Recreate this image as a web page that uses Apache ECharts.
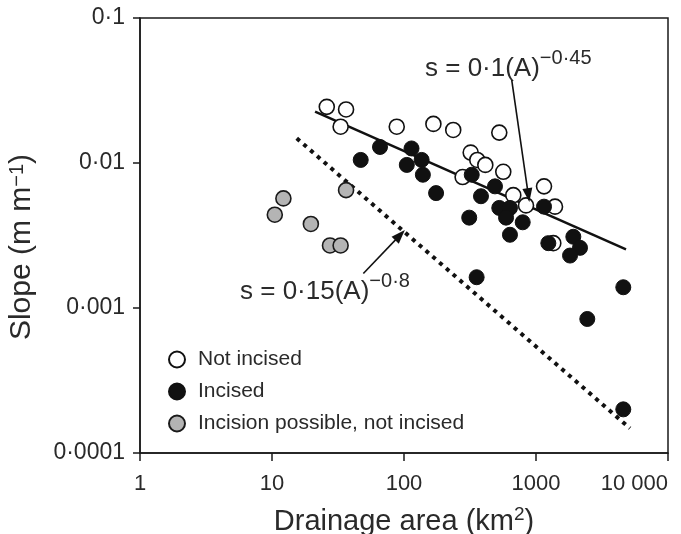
<!DOCTYPE html>
<html>
<head>
<meta charset="utf-8">
<script src="https://cdn.jsdelivr.net/npm/echarts@6/dist/echarts.min.js"></script>
<style>html,body{margin:0;padding:0;background:#fff;}#c{width:681px;height:534px;}</style>
</head>
<body>
<div id="c"></div>
<script>
// Drainage area (km2), slope (m/m)
const notIncised = [
  [26.0,0.0244],[36.4,0.0234],[33.1,0.0178],[88.1,0.0178],[167,0.0186],[236,0.0169],
  [527,0.0162],[320,0.0118],[359,0.0105],[413,0.0097],[565,0.0087],[278,0.0080],
  [673,0.0060],[1150,0.0069],[1393,0.0050],[1352,0.0028],[840,0.0051]
];
const incised = [
  [65.8,0.0129],[47,0.0105],[114,0.0126],[105,0.0097],[136,0.0105],[139,0.0083],
  [175,0.0062],[326,0.0083],[489,0.0069],[383,0.0059],[312,0.0042],[527,0.0049],
  [635,0.0049],[593,0.0042],[793,0.0039],[635,0.0032],[1150,0.0050],[1240,0.0028],
  [1918,0.0031],[2154,0.0026],[1811,0.0023],[355,0.00163],[4585,0.00139],
  [2447,0.00084],[4585,0.00020]
];
const possible = [
  [12.2,0.0057],[10.5,0.0044],[19.7,0.0038],[27.5,0.0027],[33.1,0.0027],[36.4,0.0065]
];
const fitLine = [[21.2,0.0226],[4808,0.00254]];
const thresholdLine = [[15.4,0.0148],[5150,0.000148]];
const arrowUpper = [[655,0.0373],[875,0.0060]];
const arrowLower = [[49.2,0.00173],[93.3,0.00318]];
const xTickLabels = ['1','10','100','1000','10 000'];
const yTickLabels = ['0·0001','0·001','0·01','0·1'];

const FONT = '"Liberation Sans", Arial, sans-serif';
const TXT = '#2a2a2a';
const chart = echarts.init(document.getElementById('c'));
const pt = {symbol:'circle', symbolSize:15};
chart.setOption({
  animation:false,
  backgroundColor:'#fff',
  textStyle:{fontFamily:FONT},
  grid:{left:140, right:13, top:18, bottom:81, containLabel:false, outerBoundsMode:'none',
    show:true, borderColor:'#1a1a1a', borderWidth:1.5, backgroundColor:'transparent'},
  xAxis:{
    type:'log', logBase:10, min:1, max:10000,
    axisLine:{show:true, lineStyle:{color:'#1a1a1a', width:1.5}},
    axisTick:{show:true, length:8, inside:false, lineStyle:{color:'#1a1a1a', width:1.5}},
    minorTick:{show:false},
    splitLine:{show:false},
    axisLabel:{margin:20, fontSize:22, color:TXT, fontFamily:FONT, alignMaxLabel:'right',
      formatter:v=>xTickLabels[Math.round(Math.log10(v))]},
    name:'{t|Drainage area (km}{s|2}{t|)}',
    nameLocation:'middle', nameGap:52,
    nameTextStyle:{rich:{t:{fontSize:29, color:TXT, fontFamily:FONT, verticalAlign:'bottom'}, s:{fontSize:19, color:TXT, fontFamily:FONT, verticalAlign:'top', padding:[0,0,12,0]}}}
  },
  yAxis:{
    type:'log', logBase:10, min:0.0001, max:0.1,
    axisLine:{show:true, lineStyle:{color:'#1a1a1a', width:1.5}},
    axisTick:{show:true, length:7, lineStyle:{color:'#1a1a1a', width:1.5}},
    splitLine:{show:false},
    axisLabel:{margin:15, fontSize:23, color:TXT, fontFamily:FONT,
      formatter:v=>yTickLabels[Math.round(Math.log10(v))+4]}
  },
  legend:{
    orient:'vertical', left:163, top:344, itemGap:11, itemWidth:16, itemHeight:16,
    textStyle:{fontSize:21, color:TXT, fontFamily:FONT, padding:[0,0,0,8]},
    data:['Not incised','Incised','Incision possible, not incised']
  },
  series:[
    {type:'line', data:fitLine, symbol:'none', silent:true, lineStyle:{color:'#111', width:2.5}, z:1,
     markLine:{silent:true, symbol:['none','triangle'], symbolSize:[10,14], label:{show:false},
       lineStyle:{color:'#111', width:1.6, type:'solid'},
       data:[[{coord:arrowUpper[0]},{coord:arrowUpper[1]}],[{coord:arrowLower[0]},{coord:arrowLower[1]}]]}},
    {type:'line', data:thresholdLine, symbol:'none', silent:true, lineStyle:{color:'#111', width:4, type:[4,5]}, z:1},
    Object.assign({name:'Not incised', type:'scatter', data:notIncised, z:3,
      itemStyle:{color:'#fff', borderColor:'#111', borderWidth:1.6, opacity:1}}, pt),
    Object.assign({name:'Incised', type:'scatter', data:incised, z:4,
      itemStyle:{color:'#111', borderColor:'#111', borderWidth:1, opacity:1}}, pt),
    Object.assign({name:'Incision possible, not incised', type:'scatter', data:possible, z:3,
      itemStyle:{color:'#b4b4b4', borderColor:'#1a1a1a', borderWidth:1.6, opacity:1}}, pt)
  ],
  graphic:[
    {type:'text', left:425, top:48, style:{text:'{m|s = 0·1(A)}{s|−0·45}', rich:{
      m:{fontSize:26, fill:TXT, fontFamily:FONT, verticalAlign:'bottom', padding:[8,0,0,0]},
      s:{fontSize:20, fill:TXT, fontFamily:FONT, verticalAlign:'top'}}}},
    {type:'text', left:240, top:271, style:{text:'{m|s = 0·15(A)}{s|−0·8}', rich:{
      m:{fontSize:26, fill:TXT, fontFamily:FONT, verticalAlign:'bottom', padding:[8,0,0,0]},
      s:{fontSize:20, fill:TXT, fontFamily:FONT, verticalAlign:'top'}}}},
    {type:'text', x:22, y:247, rotation:Math.PI/2, style:{text:'{t|Slope (m m}{s|−1}{t|)}', align:'center', verticalAlign:'middle', rich:{
      t:{fontSize:30, fill:TXT, fontFamily:FONT, verticalAlign:'bottom'},
      s:{fontSize:20, fill:TXT, fontFamily:FONT, verticalAlign:'top', padding:[0,0,10,0]}}}}
  ]
});
</script>
</body>
</html>
